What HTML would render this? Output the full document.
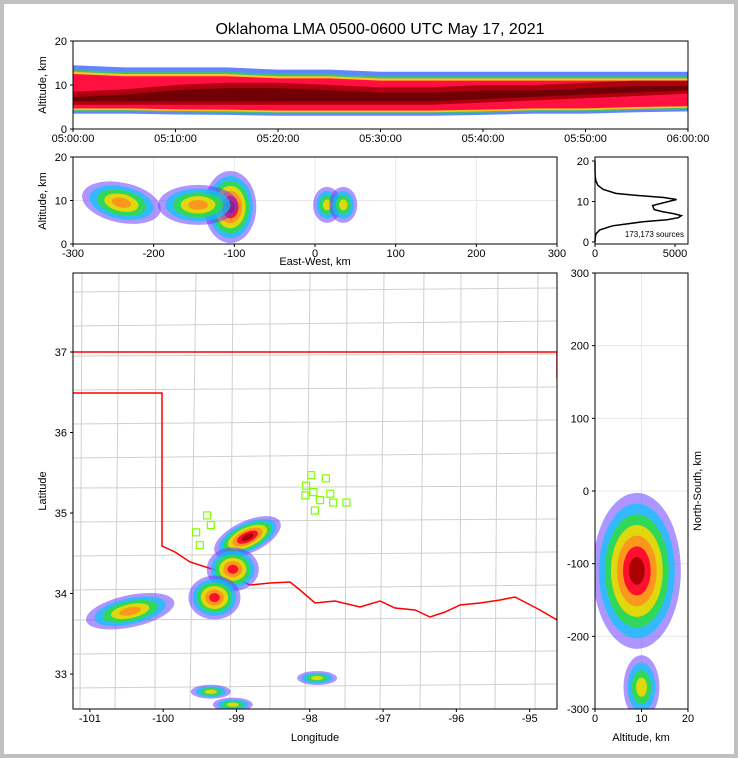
<!DOCTYPE html>
<html><head><meta charset="utf-8">
<style>
html,body{margin:0;padding:0;background:#c0c0c0;}
#frame{position:absolute;left:4px;top:4px;width:730px;height:750px;background:#fff;}
svg{position:absolute;left:0;top:0;font-family:"Liberation Sans",sans-serif;}
</style></head>
<body>
<div id="frame"></div>
<svg id="s" width="738" height="758" viewBox="0 0 738 758"></svg>
<script>
// ---------- data ----------
const timeBinsMin=[0,5,10,15,20,25,30,35,40,45,50,55,60];
const bandBottom=[3.5,3.5,3.3,3.2,3.0,3.0,3.0,3.0,3.2,3.5,3.5,3.8,4.0];
const bandTop=[14.5,14,14,14,13.5,13.5,13,13,13,13,13,13,13];
const coreBottom=[5.5,5.5,5.5,5.5,5.5,5.5,5.5,5.5,6,6.5,7,7.5,8];
const coreTop=[8.5,9,10,10.5,10.5,10,9.5,9.5,10,10,10.5,11,11];
const timeTickLabels=["05:00:00","05:10:00","05:20:00","05:30:00","05:40:00","05:50:00","06:00:00"];
const histAlt=[0,1,2,3,4,5,5.5,6,6.5,7,7.5,8,9,10,10.5,11,11.5,12,13,14,15,16,17,20];
const histCount=[0,10,60,300,1100,3000,4500,5200,5400,4900,4200,3700,3600,4600,5100,4300,2600,1300,500,180,60,20,5,0];
const ewBlobX=[-240,-105,-145,15,35];
const ewBlobZ=[9.5,8.5,9,9,9];
const ewBlobLevel=[2,4,2,1,1];
const mapBlobLon=[-98.85,-99.05,-99.3,-100.45,-97.9,-99.05,-99.35];
const mapBlobLat=[34.7,34.3,33.95,33.78,32.95,32.62,32.78];
const mapBlobLevel=[4,3,3,2,1,1,1];
const nsBlobY=[-110,-270];
const nsBlobZ=[9,10];
const nsBlobLevel=[4,1];
const lmaLon=[-97.98,-97.78,-98.05,-97.95,-97.72,-98.06,-97.86,-97.68,-97.5,-97.93,-99.4,-99.35,-99.55,-99.5];
const lmaLat=[35.47,35.43,35.34,35.26,35.24,35.22,35.16,35.13,35.13,35.03,34.97,34.85,34.76,34.6];
const latTicks=[33,34,35,36,37];
const lonTicks=[-101,-100,-99,-98,-97,-96,-95];
// ---------- helpers ----------
const S=document.getElementById('s');const NS="http://www.w3.org/2000/svg";
function el(t,a,p){const e=document.createElementNS(NS,t);for(const k in a)e.setAttribute(k,a[k]);(p||S).appendChild(e);return e;}
function txt(x,y,s,size,anchor,p,rot){const e=el('text',{x:x,y:y,'font-size':size,'text-anchor':anchor||'middle',fill:'#000'},p);if(rot)e.setAttribute('transform',`rotate(-90 ${x} ${y})`);e.textContent=s;return e;}
const palette=['#6a40ff','#00c8ff','#30e030','#ffd800','#ff9020','#ff0030','#a00000','#303030'];
const alphas=[0.55,0.7,0.8,0.85,0.9,0.9,0.9,0.9];
function blob(cx,cy,rx,ry,level,g,rot){
  const n=3+level;
  const gg=el('g',{transform:`rotate(${rot||0} ${cx} ${cy})`},g);
  for(let i=0;i<n&&i<palette.length;i++){
    const f=1-i/(n+0.3);
    el('ellipse',{cx:cx,cy:cy,rx:rx*f,ry:ry*f,fill:palette[i],opacity:alphas[i]},gg);
  }
}
// scales
const tx=m=>73+m/60*615, tz=a=>129-a/20*88;
const ex=v=>73+(v+300)/600*484, ez=a=>244-a/20*87;
const hx=c=>595+c*0.016, hz=a=>242-a/20*81;
const mx=lon=>73+(lon+101.23)*73.3, my=lat=>352+(37-lat)*80.5;
const nx=a=>595+a/20*93, ny=v=>491-v/300*218;
// title
const t=txt(380,34,"Oklahoma LMA 0500-0600 UTC May 17, 2021",16);
// ---------- top panel ----------
const gT=el('g',{});
function band(lo,hi,col,g,op){let d='M';timeBinsMin.forEach((m,i)=>d+=`${tx(m)},${tz(hi[i])} L`);for(let i=timeBinsMin.length-1;i>=0;i--)d+=`${tx(timeBinsMin[i])},${tz(lo[i])} ${i?'L':''}`;el('path',{d:d+'Z',fill:col,opacity:op||1},g);}
band(bandBottom,bandTop,'#2050ff',gT,0.7);
band(bandBottom.map(v=>v+0.5),bandTop.map(v=>v-1),'#30d060',gT,0.8);
band(bandBottom.map(v=>v+0.8),bandTop.map(v=>v-1.5),'#ffc020',gT);
band(bandBottom.map(v=>v+1.2),bandTop.map(v=>v-2),'#ff1040',gT);
band(coreBottom,coreTop,'#b00010',gT);
band(coreBottom.map(v=>v+0.8),coreTop.map(v=>v-1.2),'#600000',gT,0.8);
el('rect',{x:73,y:41,width:615,height:88,fill:'none',stroke:'#000'},gT);
[0,10,20].forEach(v=>{el('line',{x1:73,x2:70,y1:tz(v),y2:tz(v),stroke:'#000'},gT);txt(67,tz(v)+4,v,11,'end',gT);});
timeTickLabels.forEach((s,i)=>{const x=tx(i*10);el('line',{x1:x,x2:x,y1:129,y2:132,stroke:'#000'},gT);txt(x,142,s,11,'middle',gT);});
txt(46,85,"Altitude, km",11,'middle',gT,true);
// ---------- EW panel ----------
const gE=el('g',{});
[-200,-100,0,100,200].forEach(v=>el('line',{x1:ex(v),x2:ex(v),y1:157,y2:244,stroke:'#e8e8e8'},gE));
el('line',{x1:73,x2:557,y1:ez(10),y2:ez(10),stroke:'#e8e8e8'},gE);
ewBlobX.forEach((v,i)=>{const l=ewBlobLevel[i];blob(ex(v),ez(ewBlobZ[i]),l>=3?26:(l==2?40:14),l>=3?36:(l==2?20:18),l,gE,l==2&&v<-200?12:0);});
el('rect',{x:73,y:157,width:484,height:87,fill:'none',stroke:'#000'},gE);
[0,10,20].forEach(v=>{el('line',{x1:73,x2:70,y1:ez(v),y2:ez(v),stroke:'#000'},gE);txt(67,ez(v)+4,v,11,'end',gE);});
[-300,-200,-100,0,100,200,300].forEach(v=>{el('line',{x1:ex(v),x2:ex(v),y1:244,y2:247,stroke:'#000'},gE);txt(ex(v),257,v,11,'middle',gE);});
txt(46,201,"Altitude, km",11,'middle',gE,true);
txt(315,265,"East-West, km",11,'middle',gE);
// ---------- histogram ----------
const gH=el('g',{});
let hd='';histAlt.forEach((a,i)=>hd+=(i?'L':'M')+hx(histCount[i])+','+hz(a));
el('path',{d:hd,fill:'none',stroke:'#000','stroke-width':1.5},gH);
el('rect',{x:595,y:157,width:93,height:87,fill:'none',stroke:'#000'},gH);
[0,10,20].forEach(v=>{el('line',{x1:595,x2:592,y1:hz(v),y2:hz(v),stroke:'#000'},gH);txt(589,hz(v)+4,v,11,'end',gH);});
[0,5000].forEach(v=>{el('line',{x1:hx(v),x2:hx(v),y1:244,y2:247,stroke:'#000'},gH);txt(hx(v),257,v,11,'middle',gH);});
txt(684,237,"173,173 sources",8,'end',gH);
// ---------- map ----------
const gM=el('g',{});
el('defs',{},gM).innerHTML='<clipPath id="mc"><rect x="73" y="273" width="484" height="436"/></clipPath>';
const gC=el('g',{'clip-path':'url(#mc)'},gM);
for(let x=80;x<557;x+=38)el('line',{x1:x+(x%3),x2:x-(x%5),y1:273,y2:709,stroke:'#d0d0d0'},gC);
for(let y=290;y<709;y+=33)el('line',{x1:73,x2:557,y1:y+(y%4),y2:y-(y%3),stroke:'#d0d0d0'},gC);
el('path',{d:'M73,352 L557,352 L557,378 M73,393 L162,393 L162,546 L175,552 L190,562 L215,570 L235,578 L250,585 L270,583 L290,582 L300,590 L315,603 L335,601 L360,607 L380,601 L395,608 L415,610 L430,617 L445,612 L460,605 L480,603 L500,600 L515,597 L540,610 L557,620',fill:'none',stroke:'#f00','stroke-width':1.5},gC);
mapBlobLon.forEach((lo,i)=>{const l=mapBlobLevel[i];const big=l>=3&&i==0;blob(mx(lo),my(mapBlobLat[i]),big?36:(l>=3?26:(l==2?45:20)),big?16:(l>=3?22:(l==2?16:7)),l,gC,big?-25:(l==2?-12:0));});
lmaLon.forEach((lo,i)=>el('rect',{x:mx(lo)-3.5,y:my(lmaLat[i])-3.5,width:7,height:7,fill:'none',stroke:'#7fff00','stroke-width':1.2},gC));
el('rect',{x:73,y:273,width:484,height:436,fill:'none',stroke:'#000'},gM);
latTicks.forEach(v=>{el('line',{x1:73,x2:70,y1:my(v),y2:my(v),stroke:'#000'},gM);txt(67,my(v)+4,v,11,'end',gM);});
lonTicks.forEach(v=>{el('line',{x1:mx(v),x2:mx(v),y1:709,y2:712,stroke:'#000'},gM);txt(mx(v),722,v,11,'middle',gM);});
txt(46,491,"Latitude",11,'middle',gM,true);
txt(315,741,"Longitude",11,'middle',gM);
// ---------- NS panel ----------
const gN=el('g',{});
[-200,-100,0,100,200].forEach(v=>el('line',{x1:595,x2:688,y1:ny(v),y2:ny(v),stroke:'#e8e8e8'},gN));
el('line',{x1:nx(10),x2:nx(10),y1:273,y2:709,stroke:'#e8e8e8'},gN);
el('defs',{},gN).innerHTML='<clipPath id="nc"><rect x="595" y="273" width="93" height="436"/></clipPath>';
const gNC=el('g',{'clip-path':'url(#nc)'},gN);
nsBlobY.forEach((v,i)=>{const l=nsBlobLevel[i];blob(nx(nsBlobZ[i]),ny(v),l>=3?44:18,l>=3?78:32,l,gNC);});
el('rect',{x:595,y:273,width:93,height:436,fill:'none',stroke:'#000'},gN);
[-300,-200,-100,0,100,200,300].forEach(v=>{el('line',{x1:595,x2:592,y1:ny(v),y2:ny(v),stroke:'#000'},gN);txt(589,ny(v)+4,v,11,'end',gN);});
[0,10,20].forEach(v=>{el('line',{x1:nx(v),x2:nx(v),y1:709,y2:712,stroke:'#000'},gN);txt(nx(v),722,v,11,'middle',gN);});
txt(641,741,"Altitude, km",11,'middle',gN);
txt(701,491,"North-South, km",11,'middle',gN,true);
</script>
</body></html>
